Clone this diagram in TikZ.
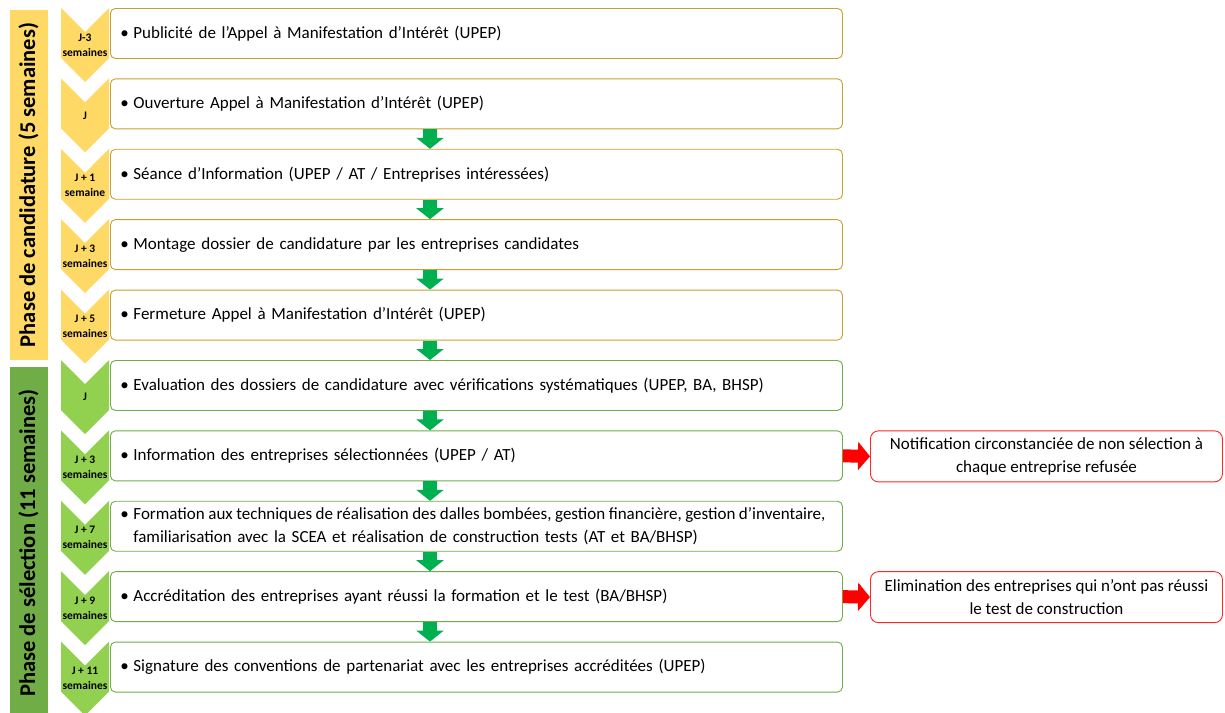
\documentclass[tikz,border=0pt]{standalone}
\usepackage{fontspec}
\setmainfont{Carlito}
\usetikzlibrary{arrows.meta,calc}
\definecolor{candY}{HTML}{FFD966}
\definecolor{candL}{HTML}{C9A02C}
\definecolor{selG}{HTML}{92D050}
\definecolor{selBar}{HTML}{70AD47}
\definecolor{selL}{HTML}{70AD47}
\definecolor{arrG}{HTML}{00B050}
\newcommand{\itm}[1]{\makebox[13pt][l]{\textbullet}#1}
\tikzset{
  stepbox/.style={draw=#1,fill=white,rounded corners=5pt,line width=0.9pt,anchor=north west,
    minimum width=732,minimum height=50,text width=712,inner xsep=10pt,inner ysep=2pt,align=left,
    font=\fontsize{17}{23}\selectfont},
  chev/.style={font=\fontsize{11.5}{15}\selectfont\bfseries,align=center,inner sep=0pt},
  phase/.style={rotate=90,minimum height=38,font=\fontsize{22.5}{24}\selectfont\bfseries,inner sep=0pt},
  notebox/.style={draw=red!85,fill=white,rounded corners=8pt,line width=0.9pt,anchor=north west,
    minimum width=352,minimum height=51,align=center,inner sep=2pt,
    font=\fontsize{17}{23}\selectfont},
  grnarrow/.style={arrG,line width=14,-{Triangle[width=27,length=11]}},
  redarrow/.style={red,line width=13,-{Triangle[width=28,length=12]}}
}
\begin{document}
\begin{tikzpicture}[x=1pt,y=-1pt,line join=round]
\useasboundingbox (0,0) rectangle (1225,712);
\node[phase,fill=candY,minimum width=350] (p1) at (28.5,185) {Phase de candidature (5 semaines)};
\node[phase,fill=selBar,minimum width=352] (p2) at (28.5,543) {Phase de sélection (11 semaines)};
\foreach \i/\col/\edge/\lab/\txt in {
  1/candY/candL/{J-3\\semaines}/{Publicité de l’Appel à Manifestation d’Intérêt (UPEP)},
  2/candY/candL/{J}/{Ouverture Appel à Manifestation d’Intérêt (UPEP)},
  3/candY/candL/{J + 1\\semaine}/{Séance d’Information (UPEP / AT / Entreprises intéressées)},
  4/candY/candL/{J + 3\\semaines}/{Montage dossier de candidature par les entreprises candidates},
  5/candY/candL/{J + 5\\semaines}/{Fermeture Appel à Manifestation d’Intérêt (UPEP)},
  6/selG/selL/{J}/{Evaluation des dossiers de candidature avec vérifications systématiques (UPEP, BA, BHSP)},
  7/selG/selL/{J + 3\\semaines}/{Information des entreprises sélectionnées (UPEP / AT)},
  8/selG/selL/{J + 7\\semaines}/{\mbox{\spaceskip=0.92\fontdimen2\font Formation aux techniques de réalisation des dalles bombées, gestion financière, gestion d’inventaire,}\\\hspace*{13pt}familiarisation avec la SCEA et réalisation de construction tests (AT et BA/BHSP)},
  9/selG/selL/{J + 9\\semaines}/{Accréditation des entreprises ayant réussi la formation et le test (BA/BHSP)},
  10/selG/selL/{J + 11\\semaines}/{Signature des conventions de partenariat avec les entreprises accréditées (UPEP)}}{
  \pgfmathsetmacro{\yt}{8+70.4*(\i-1)}
  \fill[\col] (61,\yt) -- ++(24,24) -- ++(24,-24) -- ++(0,50) -- ++(-24,24) -- ++(-24,-24) -- cycle;
  \node[chev] (c\i) at (85,{\yt+37}) {\lab};
  \node[stepbox=\edge] (b\i) at (110,\yt) {\itm{\txt}};
}
\coordinate (ax) at (430,0);
\foreach \i [evaluate=\i as \j using int(\i+1)] in {2,...,9}
  \draw[grnarrow] (b\i.south -| ax) -- (b\j.north -| ax);
\node[notebox] (n1) at (870,{8+70.4*6}) {Notification circonstanciée de non sélection à\\chaque entreprise refusée};
\node[notebox] (n2) at (870,{8+70.4*8}) {Elimination des entreprises qui n’ont pas réussi\\le test de construction};
\draw[redarrow] (b7.east) -- (n1.west);
\draw[redarrow] (b9.east) -- (n2.west);
\end{tikzpicture}
\end{document}
